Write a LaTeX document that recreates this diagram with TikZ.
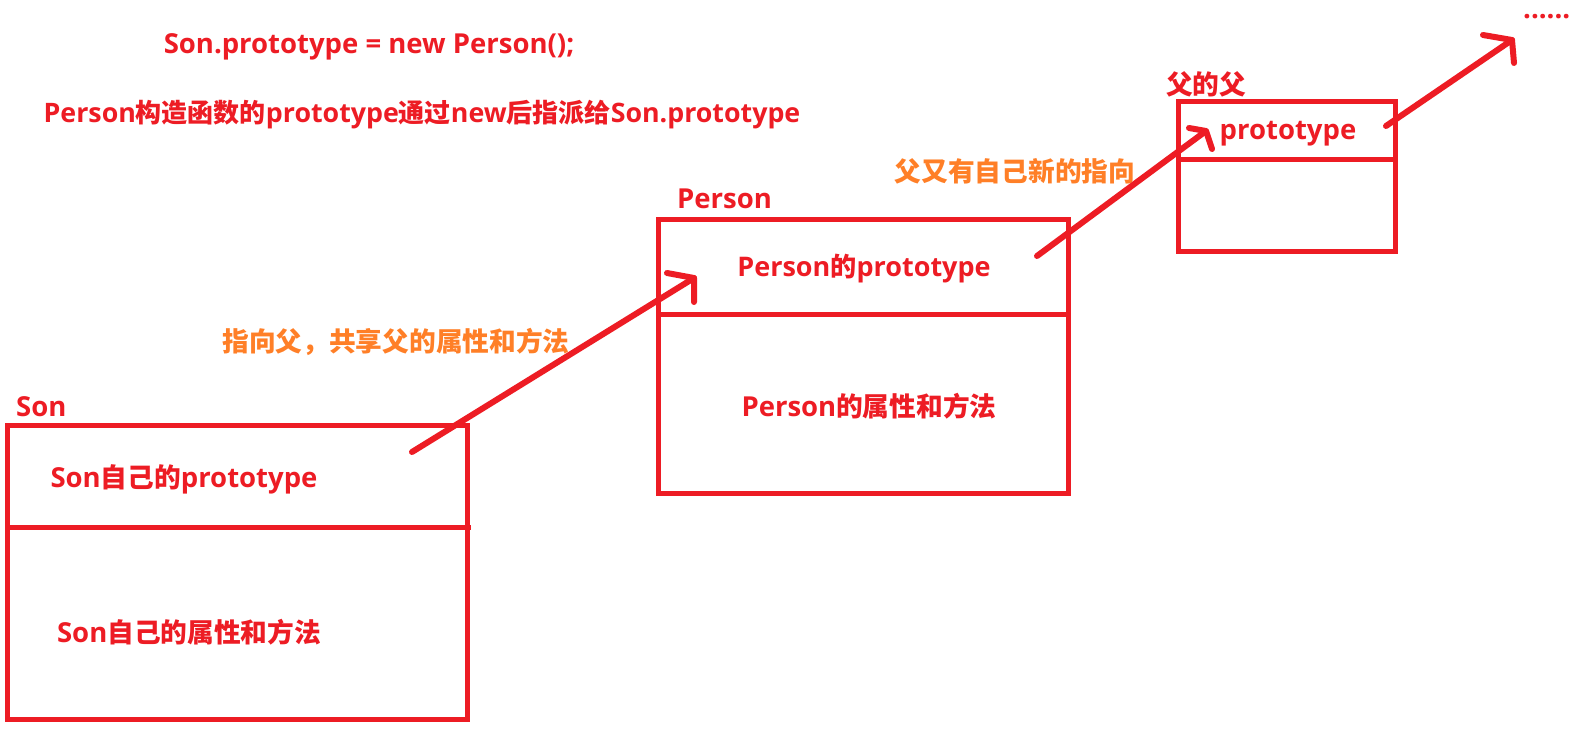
\documentclass[tikz,border=0pt]{standalone}
\usepackage{fontspec}
\setmainfont{Open Sans}[Scale=1.03]
\newfontfamily\cjkfont{Noto Sans CJK SC Bold}
\newcommand{\C}[1]{{\cjkfont #1}}
\definecolor{pred}{HTML}{ED1C24}
\definecolor{porange}{HTML}{FF7F27}
\begin{document}
\begin{tikzpicture}[x=1pt,y=-1pt,
  boxline/.style={draw=pred,line width=5pt},
  txt/.style={text=pred,font=\fontsize{26.7}{30}\selectfont\bfseries,inner sep=0pt},
  otxt/.style={text=porange,font=\fontsize{26.7}{30}\selectfont\bfseries,inner sep=0pt},
  arrowline/.style={draw=pred,line width=6pt,line cap=round,line join=round}]
\useasboundingbox[fill=white] (0,0) rectangle (1575,733);
% boxes
\draw[boxline] (7,425) rectangle (467,719);
\draw[boxline] (7,527) -- (471,527);
\draw[boxline] (658,219) rectangle (1068,493);
\draw[boxline] (658,314) -- (1068,314);
\draw[boxline] (1178,102) rectangle (1395,251);
\draw[boxline] (1178,160) -- (1398,160);
% texts
\node[txt] (t1) at (369,47) {Son.prototype = new Person();};
\node[txt,font=\fontsize{26}{30}\selectfont\bfseries] (t2) at (422,115) {Person\C{构造函数的}prototype\C{通过}new\C{后指派给}Son.prototype};
\node[txt,anchor=west] (lson) at (16,407) {Son};
\node[txt,anchor=west] (lper) at (677,199) {Person};
\node[txt,anchor=west] (lff) at (1166,84) {\C{父的父}};
\node[txt] (s1) at (184,479) {Son\C{自己的}prototype};
\node[txt] (s2) at (189,632) {Son\C{自己的属性和方法}};
\node[txt,font=\fontsize{26.2}{30}\selectfont\bfseries] (p1) at (864,269) {Person\C{的}prototype};
\node[txt] (p2) at (869,406) {Person\C{的属性和方法}};
\node[txt] (f1) at (1288,134) {prototype};
\node[otxt] (o1) at (396,342) {\C{指向父，共享父的属性和方法}};
\node[otxt] (o2) at (1015,171) {\C{父又有自己新的指向}};
\node[txt,anchor=base west] (dots) at (1523,19) {......};
% arrows
\coordinate (a1s) at (412,452);
\coordinate (a1e) at (694,278);
\coordinate (a1l) at (667,273);
\coordinate (a1r) at (694,302);
\coordinate (a2s) at (1037,256);
\coordinate (a2e) at (1206,131);
\coordinate (a2l) at (1189,128);
\coordinate (a2r) at (1212,149);
\coordinate (a3s) at (1386,126);
\coordinate (a3e) at (1512,40);
\coordinate (a3l) at (1483,35);
\coordinate (a3r) at (1514,63);
\draw[arrowline] (a1s) -- (a1e);
\draw[arrowline] (a1l) -- (a1e) -- (a1r);
\draw[arrowline] (a2s) -- (a2e);
\draw[arrowline] (a2l) -- (a2e) -- (a2r);
\draw[arrowline] (a3s) -- (a3e);
\draw[arrowline] (a3l) -- (a3e) -- (a3r);
\end{tikzpicture}
\end{document}
